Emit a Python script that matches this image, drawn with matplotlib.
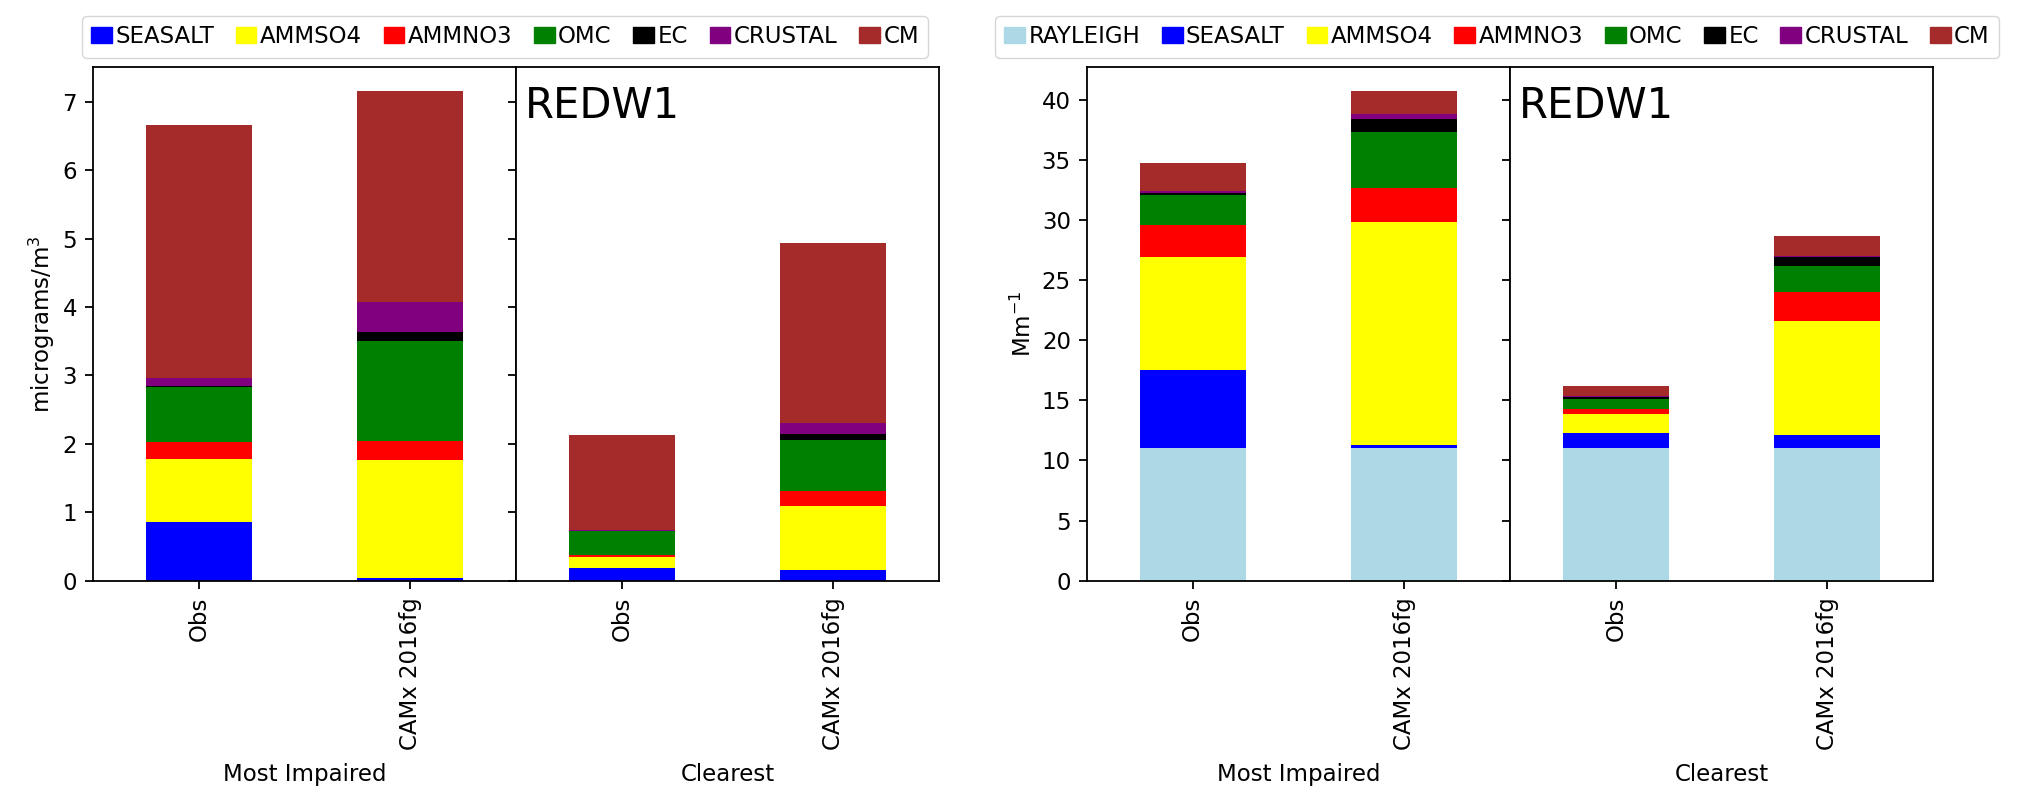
import matplotlib
matplotlib.use('Agg')
import matplotlib.pyplot as plt
from matplotlib.patches import Patch
import numpy as np

# data
runs = ['Obs', 'CAMx 2016fg']
groups = ['Most Impaired', 'Clearest']
site = 'REDW1'

mass_species = ['SEASALT', 'AMMSO4', 'AMMNO3', 'OMC', 'EC', 'CRUSTAL', 'CM']
ext_species = ['RAYLEIGH'] + mass_species

# micrograms/m3, one value per species (stacked bottom -> top)
mass_impaired_obs = [0.86, 0.92, 0.25, 0.80, 0.02, 0.11, 3.70]
mass_impaired_camx = [0.04, 1.72, 0.28, 1.46, 0.13, 0.44, 3.08]
mass_clearest_obs = [0.19, 0.15, 0.04, 0.34, 0.01, 0.01, 1.39]
mass_clearest_camx = [0.16, 0.93, 0.22, 0.75, 0.08, 0.17, 2.62]

# Mm-1
ext_impaired_obs = [11.0, 6.5, 9.4, 2.7, 2.45, 0.2, 0.15, 2.35]
ext_impaired_camx = [11.0, 0.3, 18.5, 2.85, 4.7, 1.1, 0.4, 1.85]
ext_clearest_obs = [11.0, 1.3, 1.55, 0.4, 0.9, 0.15, 0.1, 0.8]
ext_clearest_camx = [11.0, 1.15, 9.45, 2.4, 2.2, 0.7, 0.15, 1.6]

colors = {'RAYLEIGH': 'lightblue', 'SEASALT': 'blue', 'AMMSO4': 'yellow',
          'AMMNO3': 'red', 'OMC': 'green', 'EC': 'black',
          'CRUSTAL': 'purple', 'CM': 'brown'}

fs = 16.5
plt.rcParams['font.size'] = fs
plt.rcParams['axes.linewidth'] = 1.3
for a in ('xtick', 'ytick'):
    plt.rcParams[a + '.major.size'] = 5.8
    plt.rcParams[a + '.major.width'] = 1.3
    plt.rcParams[a + '.major.pad'] = 5.8

fig = plt.figure(figsize=(20.26, 7.92), dpi=100)


def stacked(ax, values, species):
    x = np.arange(len(runs))
    bottom = np.zeros(len(runs))
    for i, sp in enumerate(species):
        h = np.array([v[i] for v in values])
        ax.bar(x, h, 0.5, bottom=bottom, color=colors[sp], linewidth=0)
        bottom += h
    ax.set_xticks(x)
    ax.set_xticklabels(runs, rotation=90)
    ax.set_xlim(-0.5, 1.5)


bot = 1 - 580.7 / 792
hgt = (580.7 - 67) / 792
w = 423 / 2026

ax1 = fig.add_axes([93 / 2026, bot, w, hgt])
ax2 = fig.add_axes([516 / 2026, bot, w, hgt], sharey=ax1)
ax3 = fig.add_axes([1087 / 2026, bot, w, hgt])
ax4 = fig.add_axes([1510 / 2026, bot, w, hgt], sharey=ax3)

stacked(ax1, [mass_impaired_obs, mass_impaired_camx], mass_species)
stacked(ax2, [mass_clearest_obs, mass_clearest_camx], mass_species)
stacked(ax3, [ext_impaired_obs, ext_impaired_camx], ext_species)
stacked(ax4, [ext_clearest_obs, ext_clearest_camx], ext_species)

for ax, g in zip([ax1, ax2, ax3, ax4], groups * 2):
    ax.set_xlabel(g, labelpad=10)
for ax in (ax2, ax4):
    ax.tick_params(labelleft=False)
    ax.text(0.02, 0.9, site, transform=ax.transAxes, fontsize=30)

ax1.set_ylabel('micrograms/m$^3$')
ax3.set_ylabel('Mm$^{-1}$')

fig.legend([Patch(color=colors[s]) for s in mass_species], mass_species,
           loc='upper center', bbox_to_anchor=(505 / 2026, 0.994), ncol=7,
           handlelength=0.9, handletextpad=0.15, columnspacing=0.95,
           fontsize=fs)
fig.legend([Patch(color=colors[s]) for s in ext_species], ext_species,
           loc='upper center', bbox_to_anchor=(1497 / 2026, 0.994), ncol=8,
           handlelength=0.9, handletextpad=0.15, columnspacing=0.95,
           fontsize=fs)

fig.savefig('out.png', dpi=100)
